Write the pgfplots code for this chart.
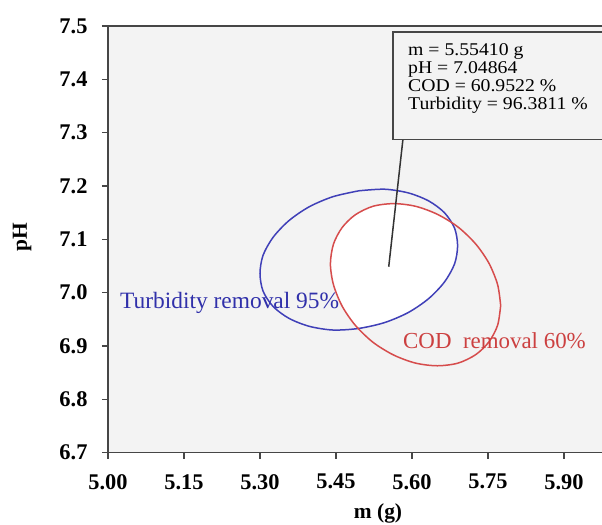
\documentclass[border=0pt]{standalone}
\usepackage{fontspec}
\setmainfont{Liberation Serif}
\usepackage{pgfplots}
\pgfplotsset{compat=1.18}
\usepgfplotslibrary{fillbetween}
\usepackage{pgfplotstable}
\definecolor{bgg}{RGB}{243,243,243}
\definecolor{eblue}{RGB}{64,64,184}
\definecolor{ered}{RGB}{214,76,76}
\definecolor{tblue}{RGB}{48,48,170}
\definecolor{tred}{RGB}{204,64,64}
\definecolor{axc}{RGB}{70,70,70}

\pgfplotstableread{
x y
5.775 6.976
5.769 7.015
5.752 7.055
5.726 7.091
5.691 7.123
5.650 7.147
5.607 7.162
5.564 7.167
5.523 7.162
5.488 7.146
5.462 7.122
5.445 7.091
5.439 7.054
5.445 7.015
5.462 6.975
5.488 6.939
5.523 6.907
5.564 6.883
5.607 6.868
5.650 6.863
5.691 6.868
5.726 6.884
5.752 6.908
5.769 6.939
5.775 6.976
}\redtab

\pgfplotstableread{
x y
5.495 7.191
5.444 7.180
5.397 7.161
5.357 7.135
5.326 7.104
5.306 7.070
5.300 7.036
5.306 7.003
5.326 6.974
5.357 6.952
5.397 6.937
5.444 6.930
5.495 6.933
5.546 6.944
5.593 6.963
5.633 6.989
5.664 7.020
5.684 7.054
5.690 7.088
5.684 7.121
5.664 7.150
5.633 7.172
5.593 7.187
5.546 7.194
5.495 7.191
}\bluetab

\newcommand{\boxtxt}[1]{\scalebox{1.1}[1]{\fontsize{18}{18}\selectfont #1}}

\begin{document}
\begin{tikzpicture}
\path[use as bounding box] (-108bp,-72.3bp) rectangle (494bp,452.7bp);
\begin{axis}[
  at={(0,0)}, anchor=south west,
  scale only axis, width=494bp, height=426.7bp,
  xmin=5, xmax=5.975, ymin=6.7, ymax=7.5,
  axis x line*=bottom, axis y line*=left,
  axis line style={axc, line width=1.3bp},
  tick style={axc, line width=1.3bp},
  tick align=outside, major tick length=6bp,
  xtick={5,5.15,5.3,5.45,5.6,5.75,5.9},
  ytick={6.7,6.8,6.9,7.0,7.1,7.2,7.3,7.4,7.5},
  xticklabel style={yshift=-12bp, /pgf/number format/.cd, fixed, fixed zerofill, precision=2},
  yticklabel style={xshift=-11bp, /pgf/number format/.cd, fixed, fixed zerofill, precision=1},
  /pgf/number format/assume math mode=true,
  ticklabel style={font=\bfseries\fontsize{22.5}{22.5}\selectfont, black},
  axis background/.style={fill=bgg},
  clip=false,
  xlabel={m (g)}, ylabel={pH},
  xlabel style={at={(axis description cs:0.5466,-0.1413)}, anchor=center, font=\bfseries\fontsize{21.5}{21.5}\selectfont},
  ylabel style={at={(axis description cs:-0.174,0.5055)}, anchor=center, font=\bfseries\fontsize{21.5}{21.5}\selectfont},
]
\draw[axc, line width=1.3bp] (rel axis cs:0,1) -- (rel axis cs:1,1);
\addplot[draw=none, smooth, name path=redp] table[x=x,y=y] {\redtab};
\addplot[draw=none, smooth, name path=bluep] table[x=x,y=y] {\bluetab};
\fill[white, intersection segments={of=redp and bluep, sequence={L2 -- R2}}] -- cycle;
\addplot[eblue, line width=1.5bp, smooth] table[x=x,y=y] {\bluetab};
\addplot[ered, line width=1.5bp, smooth] table[x=x,y=y] {\redtab};
\draw[black!80, line width=1.5bp] (axis cs:5.5541,7.04864) -- (axis cs:5.582,7.2866);
\draw[axc, line width=1.3bp, fill=bgg] (axis cs:5.5625,7.2866) rectangle (axis cs:5.9814,7.4887);
\node[anchor=base west, inner sep=0] at (axis cs:5.5921,7.4456) {\boxtxt{m = 5.55410 g}};
\node[anchor=base west, inner sep=0] at (axis cs:5.5921,7.4113) {\boxtxt{pH = 7.04864}};
\node[anchor=base west, inner sep=0] at (axis cs:5.5921,7.3770) {\boxtxt{COD = 60.9522 \%}};
\node[anchor=base west, inner sep=0] at (axis cs:5.5921,7.3427) {\boxtxt{Turbidity = 96.3811 \%}};
\node[anchor=west, inner sep=0, text=tblue, font=\fontsize{23.5}{23.5}\selectfont] at (axis cs:5.0237,6.9807) {Turbidity removal 95\%};
\node[anchor=west, inner sep=0, text=tred, font=\fontsize{23}{23}\selectfont] at (axis cs:5.5822,6.9094) {COD\ \ removal 60\%};
\end{axis}
\end{tikzpicture}
\end{document}
